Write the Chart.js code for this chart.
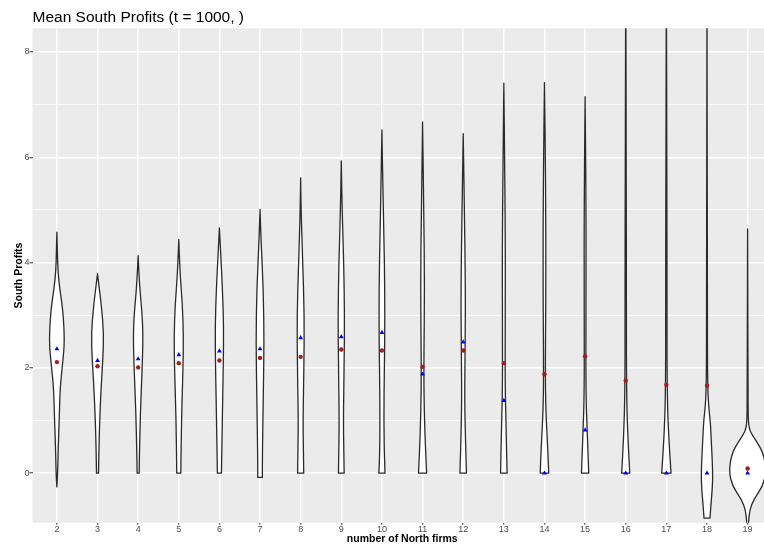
<!DOCTYPE html>
<html>
<head>
<meta charset="utf-8">
<script src="https://cdn.jsdelivr.net/npm/chart.js@4.4.0/dist/chart.umd.min.js"></script>
<style>
  html, body { margin: 0; padding: 0; background: #ffffff; overflow: hidden; }
  #wrap { width: 776px; height: 544px; }
</style>
</head>
<body>
<div id="wrap"><canvas id="c" width="776" height="544"></canvas></div>
<script>
// ---------- data ----------
const categories = [2, 3, 4, 5, 6, 7, 8, 9, 10, 11, 12, 13, 14, 15, 16, 17, 18, 19];
// red dots
const meanValues = [2.11, 2.03, 2.01, 2.09, 2.14, 2.19, 2.21, 2.35, 2.33, 2.02, 2.33, 2.09, 1.88, 2.22, 1.76, 1.68, 1.66, 0.09];
// blue triangles
const medianValues = [2.36, 2.14, 2.17, 2.25, 2.32, 2.36, 2.57, 2.59, 2.67, 1.88, 2.49, 1.38, 0.0, 0.82, 0.0, 0.0, 0.0, 0.0];
const yTickValues = [0, 2, 4, 6, 8];
const titleText = 'Mean South Profits (t = 1000, )';
const xTitle = 'number of North firms';
const yTitle = 'South Profits';

// violin profiles: [profit value, half width in category units], top to bottom
const violin2  = [[4.58,0],[4.2,0.012],[3.85,0.025],[3.53,0.065],[3.09,0.15],[2.52,0.19],[2.14,0.15],[1.64,0.08],[1.0,0.057],[0.5,0.033],[0,0.02],[-0.26,0]];
const violin3  = [[3.79,0],[3.53,0.04],[3.22,0.09],[2.65,0.155],[2.14,0.13],[1.52,0.08],[0.69,0.04],[0,0.025]];
const violin4  = [[4.13,0],[3.6,0.03],[3.0,0.1],[2.6,0.12],[2.0,0.1],[1.2,0.057],[0.3,0.03],[0,0.025]];
const violin5  = [[4.44,0],[3.8,0.03],[3.2,0.09],[2.6,0.115],[2.0,0.105],[1.0,0.065],[0,0.05]];
const violin6  = [[4.66,0],[4.2,0.03],[3.5,0.075],[2.8,0.105],[2.0,0.095],[1.0,0.07],[0,0.05]];
const violin7  = [[5.01,0],[4.5,0.02],[3.5,0.08],[2.5,0.1],[1.5,0.08],[0.3,0.057],[-0.08,0.057]];
const violin8  = [[5.61,0],[5.0,0.01],[4.0,0.05],[3.0,0.09],[2.0,0.08],[1.0,0.057],[0.3,0.07],[0,0.075]];
const violin9  = [[5.93,0],[5.0,0.02],[4.0,0.06],[3.0,0.08],[2.0,0.07],[1.0,0.05],[0.3,0.065],[0,0.07]];
const violin10 = [[6.52,0],[5.5,0.02],[4.5,0.05],[3.5,0.07],[2.5,0.07],[1.5,0.05],[0.5,0.05],[0,0.075]];
const violin11 = [[6.67,0],[5.0,0.03],[3.5,0.05],[2.0,0.03],[1.2,0.04],[0.5,0.07],[0,0.1]];
const violin12 = [[6.45,0],[5.0,0.03],[3.5,0.055],[2.5,0.05],[1.5,0.035],[0.8,0.05],[0,0.08]];
const violin13 = [[7.41,0],[6.0,0.02],[4.0,0.04],[2.5,0.03],[1.5,0.035],[0.8,0.06],[0,0.08]];
const violin14 = [[7.42,0],[5.5,0.03],[3.5,0.035],[2.0,0.02],[1.2,0.03],[0.5,0.08],[0,0.105]];
const violin15 = [[7.15,0],[5.0,0.025],[3.0,0.02],[1.5,0.02],[0.8,0.05],[0,0.09]];
const violin16 = [[9.5,0],[6.0,0.015],[3.0,0.015],[1.5,0.02],[0.7,0.05],[0,0.1]];
const violin17 = [[9.5,0],[6.0,0.015],[3.0,0.015],[1.5,0.02],[0.7,0.055],[0,0.115]];
const violin18 = [[9.5,0],[3.0,0.01],[1.6,0.015],[1.2,0.05],[1.0,0.08],[0.63,0.106],[0,0.143],[-0.3,0.13],[-0.57,0.1],[-0.855,0.073]];
const violin19 = [[4.64,0],[1.5,0.01],[1.0,0.015],[0.8,0.05],[0.63,0.2],[0.38,0.39],[0.03,0.46],[-0.25,0.37],[-0.5,0.15],[-0.7,0.05],[-0.95,0.02],[-1.2,0]];
const violinProfiles = [violin2, violin3, violin4, violin5, violin6, violin7, violin8, violin9, violin10,
  violin11, violin12, violin13, violin14, violin15, violin16, violin17, violin18, violin19];

// ---------- drawing helpers ----------
const FONT = "'Liberation Sans', Arial, Helvetica, sans-serif";
Chart.defaults.font.family = FONT;

function smoothTo(ctx, pts) {
  for (let i = 1; i < pts.length - 1; i++) {
    const mx = (pts[i][0] + pts[i + 1][0]) / 2, my = (pts[i][1] + pts[i + 1][1]) / 2;
    ctx.quadraticCurveTo(pts[i][0], pts[i][1], mx, my);
  }
  const l = pts[pts.length - 1];
  ctx.lineTo(l[0], l[1]);
}

const panelBg = {
  id: 'panelBg',
  beforeDraw(chart) {
    const { ctx, chartArea: a } = chart;
    ctx.save();
    ctx.fillStyle = '#ebebeb';
    ctx.fillRect(a.left, a.top, a.right - a.left, a.bottom - a.top);
    ctx.restore();
  }
};

const violinPlugin = {
  id: 'violins',
  beforeDatasetsDraw(chart) {
    const { ctx, chartArea: a, scales } = chart;
    const xs = scales.x, ys = scales.y;
    ctx.save();
    ctx.beginPath();
    ctx.rect(a.left, a.top, a.right - a.left, a.bottom - a.top);
    ctx.clip();
    ctx.lineWidth = 1.3;
    ctx.strokeStyle = '#2a2a2a';
    ctx.fillStyle = '#ffffff';
    ctx.lineJoin = 'round';
    categories.forEach((c, i) => {
      const prof = violinProfiles[i];
      const L = prof.map(([v, w]) => [xs.getPixelForValue(c - w), ys.getPixelForValue(v)]);
      const R = prof.map(([v, w]) => [xs.getPixelForValue(c + w), ys.getPixelForValue(v)]).reverse();
      ctx.beginPath();
      ctx.moveTo(L[0][0], L[0][1]);
      smoothTo(ctx, L);
      ctx.lineTo(R[0][0], R[0][1]);
      smoothTo(ctx, R);
      ctx.closePath();
      ctx.fill();
      ctx.stroke();
    });
    ctx.restore();
  }
};

const isMajor = v => yTickValues.includes(v);

new Chart(document.getElementById('c'), {
  type: 'scatter',
  data: {
    datasets: [
      {
        label: 'mean',
        data: categories.map((c, i) => ({ x: c, y: meanValues[i] })),
        pointStyle: 'circle',
        pointRadius: 2.2,
        backgroundColor: '#a51c1c',
        borderColor: '#a51c1c',
        borderWidth: 0,
        order: 0
      },
      {
        label: 'median',
        data: categories.map((c, i) => ({ x: c, y: medianValues[i] })),
        pointStyle: 'triangle',
        pointRadius: 2.8,
        backgroundColor: '#0000ff',
        borderColor: '#0000ff',
        borderWidth: 0,
        order: 1
      }
    ]
  },
  options: {
    responsive: false,
    animation: false,
    devicePixelRatio: 1,
    layout: { padding: 0 },
    plugins: {
      legend: { display: false },
      tooltip: { enabled: false },
      title: {
        display: true,
        text: titleText,
        align: 'start',
        fullSize: false,
        color: '#000000',
        font: { family: FONT, size: 15.5, weight: 'normal', lineHeight: 1.2 },
        padding: { top: 8.8, bottom: 0.9 }
      }
    },
    scales: {
      x: {
        type: 'linear',
        min: 1.4,
        max: 19.6,
        afterFit(s) { s.height = 21.3; },
        border: { display: false },
        grid: { color: '#ffffff', lineWidth: 1.5, tickLength: 2, tickColor: '#333333', tickWidth: 1 },
        ticks: {
          stepSize: 1, includeBounds: false, autoSkip: false, maxRotation: 0, padding: 0,
          color: '#4d4d4d', font: { family: FONT, size: 9, lineHeight: 1 },
          callback: v => categories.includes(v) ? String(v) : ''
        },
        title: {
          display: true, text: xTitle, color: '#000000',
          font: { family: FONT, size: 10.5, weight: 'bold', lineHeight: 1 },
          padding: { top: 0, bottom: 0 }
        }
      },
      y: {
        type: 'linear',
        min: -0.94,
        max: 8.45,
        afterFit(s) { s.width = 32.5; },
        border: { display: false },
        grid: {
          color: '#ffffff',
          lineWidth: c => (c.tick && isMajor(c.tick.value)) ? 1.5 : 0.75,
          tickLength: 3,
          tickColor: c => (c.tick && isMajor(c.tick.value)) ? '#333333' : 'rgba(0,0,0,0)',
          tickWidth: 1
        },
        ticks: {
          stepSize: 1, includeBounds: false, padding: 0,
          color: '#4d4d4d', font: { family: FONT, size: 9, lineHeight: 1.2 },
          callback: v => isMajor(v) ? String(v) : ''
        },
        title: {
          display: true, text: yTitle, color: '#000000',
          font: { family: FONT, size: 10.5, weight: 'bold', lineHeight: 1 },
          padding: { top: 13.8, bottom: 0 }
        }
      }
    }
  },
  plugins: [panelBg, violinPlugin]
});
</script>
</body>
</html>
